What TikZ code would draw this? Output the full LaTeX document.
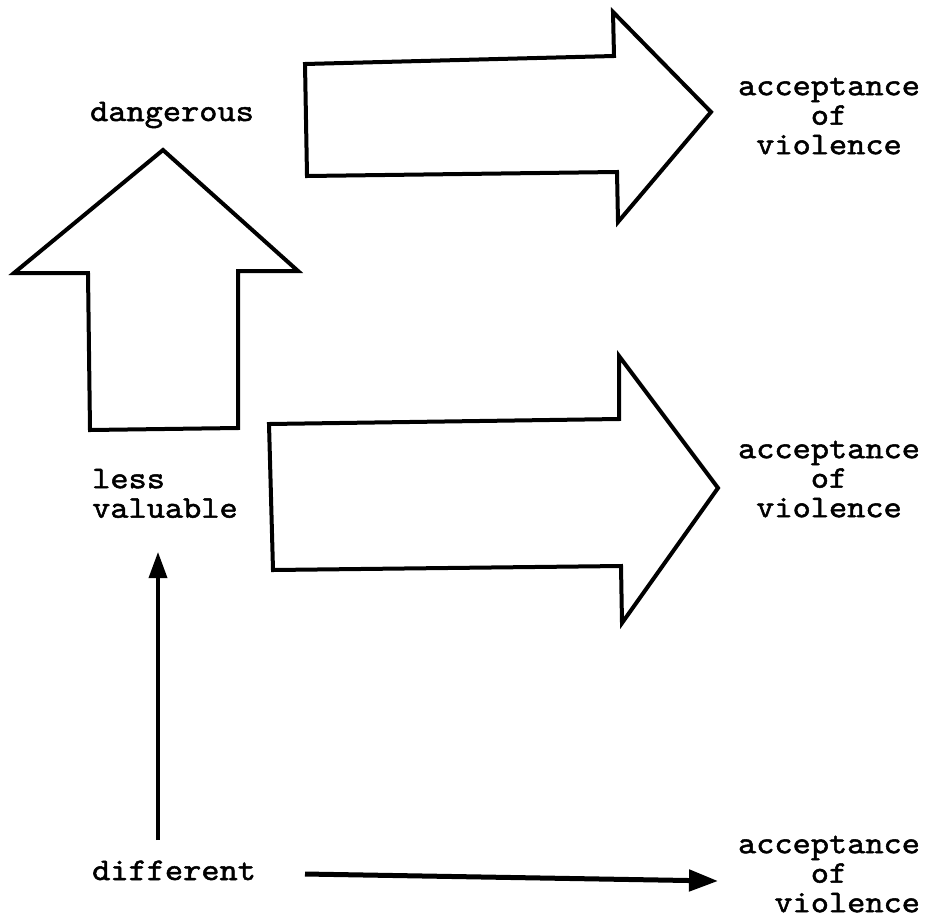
\documentclass[tikz,border=0pt]{standalone}
\usepackage{fontspec}
\newfontfamily\lbltt{lmmono10-regular.otf}[FakeBold=1.6,FakeStretch=1.1]
\usetikzlibrary{arrows.meta}
\newcommand{\toprule}{\rule{0pt}{25pt}}
\tikzset{
  lbl/.style={font=\lbltt\fontsize{31.5}{29.5}\selectfont, inner sep=0pt},
  block/.style={draw=black, line width=4pt, line join=miter, fill=white},
  thinarrow/.style={draw=black, line width=3.5pt, -{Triangle[width=18pt,length=26pt]}},
  thickarrow/.style={draw=black, line width=5pt, -{Triangle[width=21pt,length=29pt]}},
}
\begin{document}
\begin{tikzpicture}[x=1pt,y=-1pt]
\useasboundingbox (0,0) rectangle (928,921);
% labels (first baseline = anchor y + 25)
\node[lbl, anchor=base] (dang) at (172,121) {dangerous};
\node[lbl, align=left, anchor=north west] (less) at (92,463) {\toprule less\\valuable};
\node[lbl, anchor=base west] (diff) at (92,880) {different};
\node[lbl, align=center, anchor=north] (acc1) at (829,70) {\toprule acceptance\\of\\violence};
\node[lbl, align=center, anchor=north] (acc2) at (829,433) {\toprule acceptance\\of\\violence};
\node[lbl, align=left, anchor=north] (acc3) at (829,828) {\toprule acceptance\\\phantom{xxxx}of\\\phantom{xx}violence};
% block arrows
\draw[block] (305,64) -- (614,56) -- (613,12) -- (711,112) -- (618,222) -- (617,172) -- (307,176) -- cycle;
\draw[block] (163,150) -- (298,271) -- (238,271) -- (238,428) -- (90,430) -- (88,273) -- (14,273) -- cycle;
\draw[block] (269,424) -- (619,419) -- (619,356) -- (718,488) -- (622,623) -- (621,566) -- (273,570) -- cycle;
% simple arrows
\coordinate (vt) at (158,840);
\coordinate (vh) at (158,552);
\draw[thinarrow] (vt) -- (vh);
\coordinate (ht) at (305,874);
\coordinate (hh) at (718,881);
\draw[thickarrow] (ht) -- (hh);
\end{tikzpicture}
\end{document}
